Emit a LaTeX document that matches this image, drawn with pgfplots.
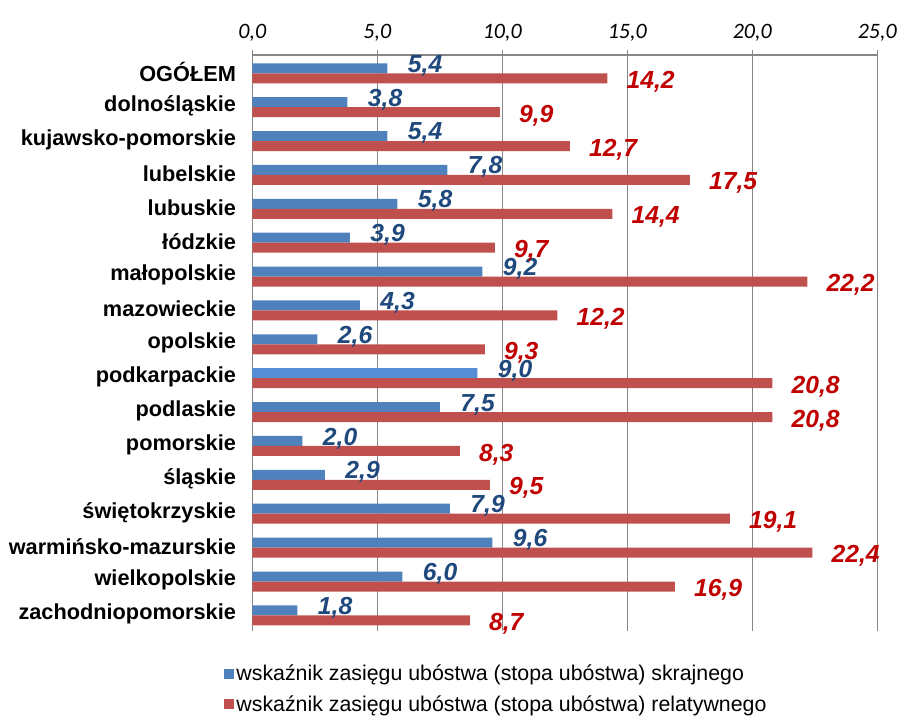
\documentclass[border=0pt]{standalone}
\usepackage{pgfplots}
\pgfplotsset{compat=1.18}
\usepackage{fontspec}
\setmainfont{Liberation Sans}
\newfontfamily\carlito{Carlito}
\definecolor{barblue}{HTML}{4F81BD}
\definecolor{barbluelight}{HTML}{558ED5}
\definecolor{barred}{HTML}{C0504D}
\definecolor{lblblue}{HTML}{1F497D}
\definecolor{lblred}{HTML}{C00000}
\definecolor{axgray}{RGB}{134,134,134}
\begin{document}
\begin{tikzpicture}
\begin{axis}[
  scale only axis,
  width=468.75pt, height=432pt,
  xmin=0, xmax=25, ymin=-0.5, ymax=16.5,
  axis x line*=top, axis y line*=left,
  axis line style={draw=axgray, line width=1pt, -},
  xtick={0,5,10,15,20,25},
  xticklabels={{0,0},{5,0},{10,0},{15,0},{20,0},{25,0}},
  xticklabel style={font=\carlito\itshape\fontsize{16.5pt}{18pt}\selectfont, text=black, yshift=3pt},
  xtick style={draw=axgray, line width=1pt},
  tick align=outside,
  major tick length=3.75pt,
  minor tick length=3.75pt,
  xmajorgrids, grid style={draw=axgray, line width=1pt},
  ytick={0,...,16},
  yticklabels={zachodniopomorskie,wielkopolskie,warmińsko-mazurskie,świętokrzyskie,śląskie,pomorskie,podlaskie,podkarpackie,opolskie,mazowieckie,małopolskie,łódzkie,lubuskie,lubelskie,kujawsko-pomorskie,dolnośląskie,OGÓŁEM},
  minor ytick={-0.5,0.5,...,16.5},
  ytick style={draw=none},
  minor tick style={draw=axgray, line width=1pt},
  yticklabel style={font=\bfseries\fontsize{16.3pt}{18pt}\selectfont, text=black, xshift=-5pt},
  /pgf/number format/assume math mode=true,
  point meta=x,
  nodes near coords={\pgfmathprintnumber[fixed,fixed zerofill,precision=1,use comma]{\pgfplotspointmeta}},
  every node near coord/.append style={font=\bfseries\itshape\fontsize{18.5pt}{20pt}\selectfont, anchor=west},
  clip=false,
  legend style={at={(rel axis cs:-0.046,-0.054)}, anchor=north west, draw=none, fill=none,
    font=\fontsize{16pt}{19pt}\selectfont, row sep=5.5pt, inner sep=0pt},
  legend cell align=left,
  legend image code/.code={\fill[#1] (0pt,-3.75pt) rectangle (7.5pt,3.75pt);},
]
\addplot[xbar, bar width=7.5pt, bar shift=2.75pt, fill=barblue, draw=none,
  every node near coord/.append style={text=lblblue, yshift=4.75pt, xshift=12pt}]
  coordinates {
  (1.8,0) (6.0,1) (9.6,2) (7.9,3) (2.9,4) (2.0,5) (7.5,6) (9.0,7) (2.6,8) (4.3,9) (9.2,10) (3.9,11) (5.8,12) (7.8,13) (5.4,14) (3.8,15) (5.4,16)
  };
\addlegendentry{wskaźnik zasięgu ubóstwa (stopa ubóstwa) skrajnego}
\addplot[xbar, bar width=7.5pt, bar shift=-4.75pt, fill=barred, draw=none,
  every node near coord/.append style={text=lblred, yshift=-7.25pt, xshift=11pt}]
  coordinates {
  (8.7,0) (16.9,1) (22.4,2) (19.1,3) (9.5,4) (8.3,5) (20.8,6) (20.8,7) (9.3,8) (12.2,9) (22.2,10) (9.7,11) (14.4,12) (17.5,13) (12.7,14) (9.9,15) (14.2,16)
  };
\addlegendentry{wskaźnik zasięgu ubóstwa (stopa ubóstwa) relatywnego}
\addplot[xbar, bar width=7.5pt, bar shift=2.75pt, fill=barbluelight, draw=none, forget plot, nodes near coords={}]
  coordinates {(9.0,7)};
\end{axis}
\pgfresetboundingbox
\path[use as bounding box] ([xshift=-189.2pt, yshift=-63pt]current axis.south west) rectangle ([xshift=19.3pt, yshift=41.25pt]current axis.north east);
\end{tikzpicture}
\end{document}
